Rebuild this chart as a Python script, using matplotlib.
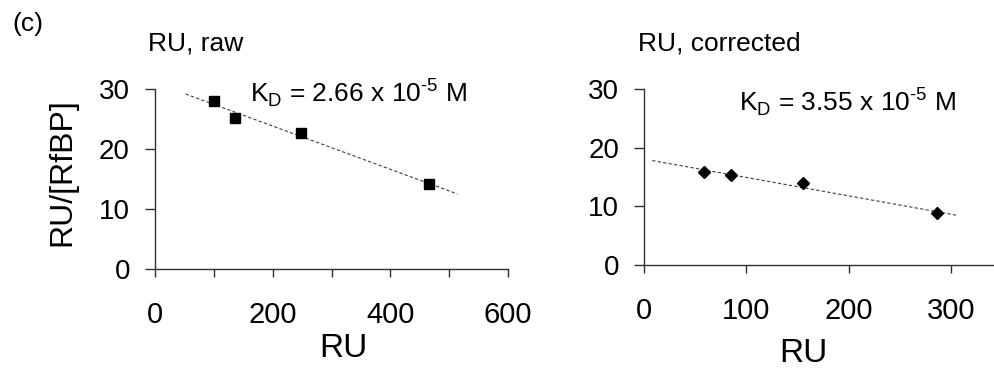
import numpy as np
import matplotlib
matplotlib.use("Agg")
import matplotlib.pyplot as plt
from matplotlib.ticker import MultipleLocator

# raw RU data (Scatchard plot)
raw_ru = [100, 136, 248, 466]
raw_ratio = [28.0, 25.1, 22.7, 14.1]
raw_fit_range = [52, 514]
raw_kd = r"K$_\mathregular{D}$ = 2.66 x 10$^{\text{-5}}$ M"

# corrected RU data
cor_ru = [59, 85, 155, 286]
cor_ratio = [15.8, 15.4, 13.9, 8.8]
cor_fit_range = [8, 305]
cor_kd = r"K$_\mathregular{D}$ = 3.55 x 10$^{\text{-5}}$ M"

plt.rcParams['font.family'] = ['Liberation Sans', 'DejaVu Sans']
plt.rcParams['mathtext.fontset'] = 'custom'
plt.rcParams['mathtext.rm'] = 'Liberation Sans'

W, H = 994, 368
fig = plt.figure(figsize=(W / 100, H / 100), dpi=100)

axis_col = '#303030'


def px(x0, y0, x1, y1):
    # axes rectangle from pixel box
    return [x0 / W, 1 - y1 / H, (x1 - x0) / W, (y1 - y0) / H]


def style(ax, xmax, xmajor, xminor):
    for s in ['top', 'right']:
        ax.spines[s].set_visible(False)
    for s in ['left', 'bottom']:
        ax.spines[s].set_color(axis_col)
        ax.spines[s].set_linewidth(1.0)
    ax.set_xlim(0, xmax)
    ax.set_ylim(0, 30)
    ax.yaxis.set_major_locator(MultipleLocator(10))
    ax.xaxis.set_major_locator(MultipleLocator(xmajor))
    ax.xaxis.set_minor_locator(MultipleLocator(xminor))
    ax.tick_params(axis='y', direction='out', length=7, width=1.0,
                   color=axis_col, labelsize=20, pad=11)
    ax.tick_params(axis='x', which='both', direction='out', length=6,
                   width=1.0, color=axis_col, labelsize=21, pad=17)


def fit_line(ax, x, y, rng):
    k, b = np.polyfit(x, y, 1)
    xs = np.array(rng)
    ax.plot(xs, k * xs + b, color='#404040', lw=0.8,
            linestyle=(0, (3, 2)), zorder=1)


# left panel
ax1 = fig.add_axes(px(155, 89, 508, 269))
style(ax1, 600, 200, 100)
fit_line(ax1, raw_ru, raw_ratio, raw_fit_range)
ax1.plot(raw_ru, raw_ratio, 's', color='black', ms=6.5, zorder=3, clip_on=False)
ax1.text(0.269, 0.929, raw_kd, transform=ax1.transAxes, fontsize=19,
         va='baseline')
ax1.set_xlabel('RU', fontsize=24, va='center')
ax1.xaxis.set_label_coords(0.535, -0.44)
ax1.set_ylabel('RU/[RfBP]', fontsize=23, va='center')
ax1.yaxis.set_label_coords(-0.262, 0.54)

# right panel
ax2 = fig.add_axes(px(644, 89, 1002, 265))
style(ax2, 350, 100, 100)
fit_line(ax2, cor_ru, cor_ratio, cor_fit_range)
ax2.plot(cor_ru, cor_ratio, 'D', color='black', ms=6.5, zorder=3, clip_on=False)
ax2.text(0.265, 0.875, cor_kd, transform=ax2.transAxes, fontsize=19,
         va='baseline')
ax2.set_xlabel('RU', fontsize=24, va='center')
ax2.xaxis.set_label_coords(0.444, -0.50)

fig.text(12 / W, 1 - 31 / H, '(c)', fontsize=19, va='baseline')
fig.text(148 / W, 1 - 50 / H, 'RU, raw', fontsize=19, va='baseline')
fig.text(638 / W, 1 - 50 / H, 'RU, corrected', fontsize=19, va='baseline')

fig.savefig('out.png', dpi=100)
